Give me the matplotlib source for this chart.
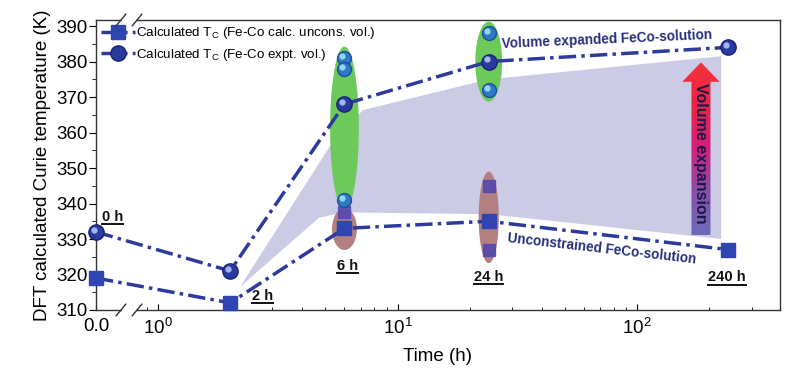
import numpy as np
import matplotlib
matplotlib.use("Agg")
import matplotlib.pyplot as plt
import matplotlib.transforms as mtransforms
from matplotlib.patches import Polygon, Rectangle
from matplotlib.colors import LinearSegmentedColormap
from matplotlib.lines import Line2D

plt.rcParams['font.family'] = ['Liberation Sans', 'DejaVu Sans']
plt.rcParams['mathtext.fontset'] = 'custom'
plt.rcParams['mathtext.rm'] = 'Liberation Sans'
plt.rcParams['mathtext.it'] = 'Liberation Sans:italic'
plt.rcParams['mathtext.bf'] = 'Liberation Sans:bold'

# ---- data ----
time_h = [0, 2, 6, 24, 240]
tc_uncons = [319, 312, 333, 335, 327]
tc_expt = [332, 321, 368, 380, 384]
time_labels = ['0 h', '2 h', '6 h', '24 h', '240 h']

# scattered values inside the highlighted ellipses
extra_expt_t = [6, 6, 6, 24, 24]
extra_expt = [381, 378, 341, 388, 372]
extra_uncons_t = [6, 24, 24]
extra_uncons = [337.5, 345, 327]

# ellipses: time, lower T, upper T
green_t = [6, 24]
green_lo = [338.2, 368.7]
green_hi = [384.2, 391.2]
brown_t = [6, 24]
brown_lo = [326.9, 323.2]
brown_hi = [338.7, 349.0]

# shaded band between the two solutions
band_t = [2.2, 5.2, 7.15, 24, 224, 224, 24, 6, 4.7]
band_T = [316.5, 356, 366.3, 375, 381.5, 330, 337, 337.5, 336]

LINE = '#2d3a9c'
SQ = '#2f45b2'
NAVY = '#26307a'

# broken axis: short linear piece for t=0, log piece afterwards
XB = 0.764
PB = 0.1417


def fwd(x):
    x = np.asarray(x, float)
    return np.where(x <= XB, x / XB * PB, np.log10(np.maximum(x, XB) / XB) + PB)


def inv(p):
    p = np.asarray(p, float)
    return np.where(p <= PB, p / PB * XB, XB * 10 ** (np.minimum(p, 20) - PB))


fig = plt.figure(figsize=(7.85, 3.72), dpi=100)
ax = fig.add_axes([0.1223, 0.1667, 0.8713, 0.7795])
ax.set_xscale('function', functions=(fwd, inv))
ax.set_xlim(0, 394)
ax.set_ylim(310, 391.7)

# shaded band
ax.add_patch(Polygon(np.column_stack([band_t, band_T]), closed=True,
                     facecolor='#cbcbe6', edgecolor='none', zorder=1))

# ellipses
th = np.linspace(0, 2 * np.pi, 120)
for t, lo, hi, hw in zip(green_t, green_lo, green_hi, [0.06, 0.056]):
    ax.fill(t * 10 ** (hw * np.cos(th)), (lo + hi) / 2 + (hi - lo) / 2 * np.sin(th),
            color='#6cc95a', zorder=2, lw=0)
for t, lo, hi, hw in zip(brown_t, brown_lo, brown_hi, [0.052, 0.042]):
    ax.fill(t * 10 ** (hw * np.cos(th)), (lo + hi) / 2 + (hi - lo) / 2 * np.sin(th),
            color='#b38082', zorder=2, lw=0)

ax.plot(extra_uncons_t, extra_uncons, 's', ms=9, color='#4f46b0', alpha=0.85, zorder=3)
ax.plot(extra_expt_t, extra_expt, 'o', ms=10, color='#2f78c4', mec='#1f4f9a', zorder=3)

hl = ax.transData + mtransforms.ScaledTranslation(-1.5 / 72, 1.5 / 72, fig.dpi_scale_trans)
ax.plot(extra_expt_t, extra_expt, 'o', ms=3.5, color='#8fd6f2', transform=hl, zorder=3)

dash = (0, (5, 1.5, 1.0, 1.5))
ax.plot(time_h, tc_uncons, linestyle=dash, lw=2.5, color=LINE, marker='s', ms=10,
        mfc=SQ, mec=SQ, zorder=4, clip_on=False,
        label='Calculated T$_\\mathregular{C}$ (Fe-Co calc. uncons. vol.)')
ax.plot(time_h, tc_expt, linestyle=dash, lw=2.5, color=LINE, marker='o', ms=11,
        mfc='#2a3a9e', mec='#1b2470', zorder=4, clip_on=False,
        label='Calculated T$_\\mathregular{C}$ (Fe-Co expt. vol.)')
ax.plot(time_h, tc_expt, 'o', ms=3.5, color='#9fb8ee', transform=hl, zorder=5, clip_on=False)

leg = ax.legend(loc='upper left', frameon=False, fontsize=9.6, handlelength=2.5,
                handletextpad=0.1, borderaxespad=0.1, labelspacing=0.4, borderpad=0.3)

# time labels (underlined later)
offsets = [(12, 11), (23, 5), (2, -27), (0, -40), (-1, -20)]
series_for_label = [tc_expt[0], tc_uncons[1], tc_uncons[2], tc_uncons[3], tc_uncons[4]]
tlab = []
for t, T, lab, off in zip(time_h, series_for_label, time_labels, offsets):
    tlab.append(ax.annotate(lab, (t, T), xytext=off, textcoords='offset points',
                            ha='center', va='center', fontsize=10.5, fontweight='bold',
                            color='#111111', zorder=6))

ax.text(75, 386.2, 'Volume expanded FeCo-solution', ha='center', va='center',
        fontsize=9.8, fontweight='bold', color=NAVY, rotation=2.5, zorder=6)
ax.text(70.8, 327.3, 'Unconstrained FeCo-solution', ha='center', va='center',
        fontsize=9.8, fontweight='bold', color=NAVY, rotation=-6.5, zorder=6)

# gradient "volume expansion" arrow (axes fraction)
cx, sw, hw_, yb, yh, yt = 0.8845, 0.0139, 0.0273, 0.2586, 0.787, 0.854
arrow = Polygon([(cx - sw, yb), (cx + sw, yb), (cx + sw, yh), (cx + hw_, yh),
                 (cx, yt), (cx - hw_, yh), (cx - sw, yh)], closed=True,
                transform=ax.transAxes, facecolor='none', edgecolor='none')
ax.add_patch(arrow)
cmap = LinearSegmentedColormap.from_list('vexp', ['#6a6cb8', '#8a4fa6', '#d2207a', '#ee2244', '#f2343a'])
grad = np.linspace(0, 1, 256).reshape(-1, 1)
im = ax.imshow(grad, cmap=cmap, origin='lower', aspect='auto', transform=ax.transAxes,
               extent=[cx - hw_, cx + hw_, yb, yt], zorder=5)
im.set_clip_path(arrow)
ax.set_xlim(0, 394)
ax.set_ylim(310, 391.7)
ax.text(cx, 0.541, 'Volume expansion', transform=ax.transAxes, rotation=-90,
        ha='center', va='center', fontsize=11.5, fontweight='bold', color='#1a1a4e', zorder=6)

# axes styling
ax.set_xticks([0, 1, 10, 100])
ax.set_xticklabels(['0.0', '$10^0$', '$10^1$', '$10^2$'])
ax.set_xticks([0.8, 0.9] + list(range(2, 10)) + list(range(20, 100, 10)) + [200, 300], minor=True)
ax.set_yticks(np.arange(310, 391, 10))
ax.set_yticks(np.arange(315, 391, 10), minor=True)
ax.tick_params(axis='x', which='both', direction='in', labelsize=13.5, pad=6)
ax.tick_params(axis='x', which='major', length=4)
ax.tick_params(axis='x', which='minor', length=2.5)
ax.tick_params(axis='y', which='major', direction='out', length=5, labelsize=13.5, pad=1)
ax.tick_params(axis='y', which='minor', direction='out', length=3)
for s in ax.spines.values():
    s.set_linewidth(1.0)
    s.set_color('#333333')

ax.set_ylabel('DFT calculated Curie temperature (K)', fontsize=13.5, labelpad=4)
ax.set_xlabel('Time (h)', fontsize=13.5, labelpad=7)

# axis break marks
for yy in (0, 1):
    ax.add_patch(Rectangle((0.0385, yy - 0.012), 0.02, 0.024, transform=ax.transAxes,
                           facecolor='white', edgecolor='none', clip_on=False, zorder=7))
    for xc in (0.0365, 0.060):
        ax.plot([xc - 0.007, xc + 0.007], [yy - 0.02, yy + 0.02], transform=ax.transAxes,
                color='#333333', lw=1, clip_on=False, zorder=8)

# underline the time labels
fig.canvas.draw()
W, H = fig.canvas.get_width_height()
for t in tlab:
    bb = t.get_window_extent()
    y = (bb.y0 - 0.5) / H
    fig.add_artist(Line2D([bb.x0 / W, bb.x1 / W], [y, y], color='#111111', lw=1.4))

fig.savefig('out.png', dpi=100)
